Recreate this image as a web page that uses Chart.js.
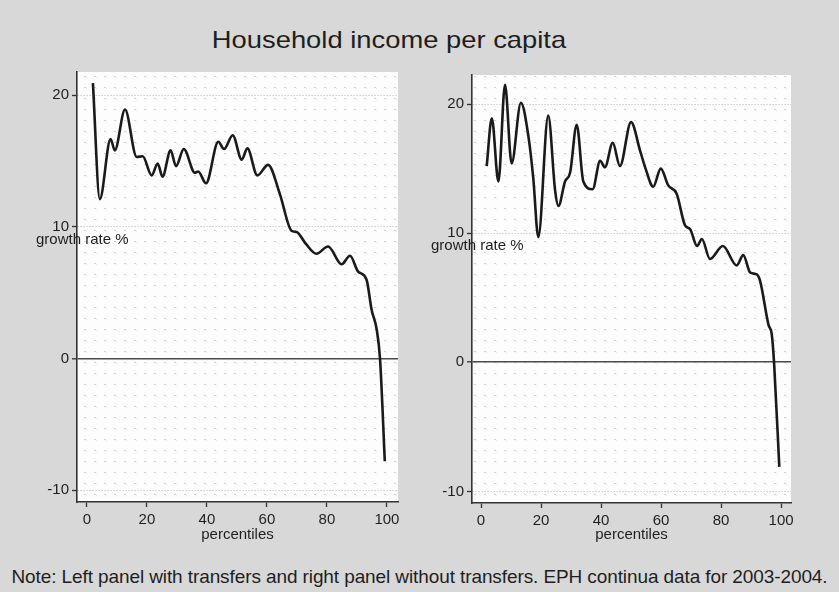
<!DOCTYPE html>
<html>
<head>
<meta charset="utf-8">
<script src="https://cdn.jsdelivr.net/npm/chart.js@4/dist/chart.umd.min.js"></script>
<style>
  body { margin: 0; background: #d8d8d8; }
  #wrap { position: relative; width: 839px; height: 592px; background: #d8d8d8; font-family: "Liberation Sans", Arial, sans-serif; color: #1e1e1e; overflow: hidden; }
  #titulo { position: absolute; left: 0; width: 778px; top: 26px; text-align: center; font-size: 24px; transform: scaleX(1.14); transform-origin: 389px 0; }
  #nota { position: absolute; left: 0; width: 839px; top: 566px; text-align: center; font-size: 19px; letter-spacing: -0.1px; }
  canvas { position: absolute; top: 60px; }
  #esq { left: 0; }
  #dir { left: 420px; }
</style>
</head>
<body>
<div id="wrap">
  <div id="titulo">Household income per capita</div>
  <canvas id="esq" width="420" height="490"></canvas>
  <canvas id="dir" width="419" height="490"></canvas>
  <div id="nota">Note: Left panel with transfers and right panel without transfers. EPH continua data for 2003-2004.</div>
</div>
<script>
// percentis e taxas de crescimento
const percEsq = [2, 4.3, 7.9, 9.3, 12.7, 16.6, 18.6, 21.6, 23.6, 25.2, 27.9, 29.7, 32.3, 36, 37.1, 39.7, 43.8, 45.7, 48.6, 51.6, 53.5, 56.8, 60.4, 64.3, 68.2, 69.9, 73, 76.5, 80.4, 84.9, 87.7, 90.4, 93.2, 94.9, 96.6, 97.7, 99.3];
const taxaEsq = [20.9, 12.1, 16.65, 15.8, 18.9, 15.3, 15.35, 13.9, 14.8, 13.8, 15.8, 14.6, 15.9, 14.1, 14.2, 13.3, 16.45, 15.9, 16.95, 15.1, 15.95, 13.9, 14.7, 12.5, 9.7, 9.6, 8.7, 7.95, 8.5, 7.15, 7.8, 6.6, 6.0, 3.7, 2.2, 0, -7.8];

const percDir = [1.9, 3.6, 5.8, 8, 10.2, 13.3, 15.8, 17.4, 19.1, 22.4, 24.7, 25.8, 28, 29.7, 31.9, 34.1, 37.2, 39.7, 41.3, 43.9, 46.3, 50, 53, 54.7, 57.4, 59.9, 62.4, 65.2, 68, 69.7, 72, 73.6, 76.3, 80.6, 85.2, 87.4, 89.7, 91.9, 93, 95.8, 96.9, 97.7, 99.4];
const taxaDir = [15.2, 18.9, 14.0, 21.5, 15.4, 20.1, 17.5, 14.3, 9.7, 19.1, 13.3, 12.1, 14.0, 14.7, 18.4, 14.0, 13.4, 15.6, 15.1, 17.0, 15.2, 18.6, 16.4, 15.1, 13.6, 15.0, 13.7, 13.05, 10.6, 10.3, 9.0, 9.55, 8.0, 9.0, 7.5, 8.3, 6.95, 6.8, 6.3, 2.9, 2.15, -0.2, -8.1];

const ticksX = [0, 20, 40, 60, 80, 100];
const ticksY = [-10, 0, 10, 20];

// textura de pontinhos do fundo
const padrao = (() => {
    const c = document.createElement('canvas');
    c.width = 10; c.height = 11;
    const g = c.getContext('2d');
    g.fillStyle = 'rgba(0,0,0,0.17)';
    g.fillRect(4, 5, 2, 1);
    g.fillStyle = 'rgba(0,0,0,0.08)';
    g.fillRect(6, 6, 1, 1);
    return c;
})();

const fundoPainel = {
    id: 'fundoPainel',
    beforeDraw(chart) {
        const { ctx, chartArea: a } = chart;
        ctx.save();
        ctx.fillStyle = '#fdfdfd';
        ctx.fillRect(a.left, a.top, a.right - a.left, a.bottom - a.top);
        ctx.fillStyle = ctx.createPattern(padrao, 'repeat');
        ctx.fillRect(a.left, a.top, a.right - a.left, a.bottom - a.top);
        ctx.restore();
    },
    afterDraw(chart) {
        const { ctx, chartArea: a, scales } = chart;
        ctx.save();
        ctx.font = '15px "Liberation Sans", Arial, sans-serif';
        ctx.fillStyle = '#1e1e1e';
        ctx.textBaseline = 'middle';
        ctx.fillText('growth rate %', a.left - 41, scales.y.getPixelForValue(10) + 13);
        ctx.restore();
    }
};

function montarPainel(id, perc, taxa, faixaX, faixaY, pad, larguraY, alturaX) {
    return new Chart(document.getElementById(id), {
        type: 'line',
        data: {
            datasets: [{
                data: perc.map((p, i) => ({ x: p, y: taxa[i] })),
                borderColor: '#1a1a1a',
                borderWidth: 2.6,
                pointRadius: 0,
                cubicInterpolationMode: 'monotone',
                fill: false
            }]
        },
        options: {
            responsive: false,
            animation: false,
            layout: { padding: pad },
            plugins: { legend: { display: false }, tooltip: { enabled: false } },
            scales: {
                x: {
                    type: 'linear',
                    min: faixaX[0], max: faixaX[1],
                    afterBuildTicks: s => { s.ticks = ticksX.map(v => ({ value: v })); },
                    afterFit: s => { s.height = alturaX; },
                    ticks: { color: '#1e1e1e', font: { size: 15, family: '"Liberation Sans", Arial' }, padding: 4, maxRotation: 0 },
                    grid: { drawOnChartArea: false, tickLength: 5, tickColor: '#333', tickWidth: 1.3 },
                    border: { color: '#333', width: 1.6 },
                    title: { display: true, text: 'percentiles', color: '#1e1e1e', font: { size: 15, family: '"Liberation Sans", Arial' }, padding: { top: 0, bottom: 6 } }
                },
                y: {
                    min: faixaY[0], max: faixaY[1],
                    afterBuildTicks: s => { s.ticks = ticksY.map(v => ({ value: v })); },
                    afterFit: s => { s.width = larguraY; },
                    ticks: { color: '#1e1e1e', font: { size: 15, family: '"Liberation Sans", Arial' }, padding: 3 },
                    grid: {
                        tickLength: 5,
                        tickColor: '#333',
                        tickWidth: 1.3,
                        color: ctx => ctx.tick && ctx.tick.value === 0 ? '#4a4a4a' : '#b5b5b5',
                        lineWidth: ctx => ctx.tick && ctx.tick.value === 0 ? 1.6 : 1
                    },
                    border: {
                        color: '#333', width: 1.6,
                        dash: ctx => ctx.tick && ctx.tick.value === 0 ? [] : [1, 2]
                    }
                }
            }
        },
        plugins: [fundoPainel]
    });
}

montarPainel('esq', percEsq, taxaEsq, [-3.3, 103.7], [-10.9, 21.75], { left: 0, top: 12, right: 22, bottom: 0 }, 77, 48);
montarPainel('dir', percDir, taxaDir, [-3, 103.3], [-10.9, 22.25], { left: 0, top: 15, right: 48, bottom: 0 }, 52, 47);
</script>
</body>
</html>
